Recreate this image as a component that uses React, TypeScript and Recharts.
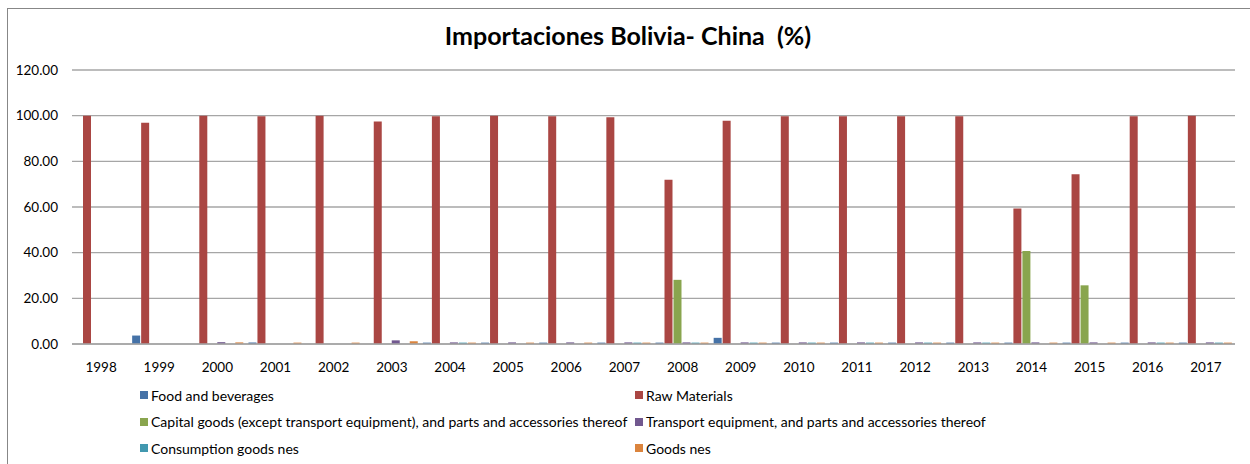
import React from "react";
import {
  BarChart,
  Bar,
  XAxis,
  YAxis,
  CartesianGrid,
} from "recharts";

// --- data ---
const YEARS = [
  "1998", "1999", "2000", "2001", "2002", "2003", "2004", "2005", "2006", "2007",
  "2008", "2009", "2010", "2011", "2012", "2013", "2014", "2015", "2016", "2017",
];

const FOOD = [0, 3.7, 0, 0.7, 0, 0, 0.6, 0.6, 0.6, 0.6, 0.6, 2.7, 0.6, 0.6, 0.6, 0.6, 0.6, 0.6, 0.6, 0.6];
const RAW = [100, 96.9, 100, 99.7, 100, 97.4, 99.7, 100, 99.7, 99.3, 71.9, 97.8, 99.7, 99.7, 99.7, 99.7, 59.3, 74.3, 99.7, 100];
const CAPITAL = [0, 0, 0, 0, 0, 0, 0, 0, 0, 0, 28.1, 0, 0, 0, 0, 0, 40.7, 25.7, 0, 0];
const TRANSPORT = [0, 0, 0.8, 0, 0, 1.6, 0.7, 0.7, 0.7, 0.7, 0.7, 0.7, 0.7, 0.7, 0.7, 0.7, 0.7, 0.7, 0.7, 0.7];
const CONSUMPTION = [0, 0, 0, 0, 0, 0, 0.6, 0, 0, 0.6, 0.6, 0.6, 0.6, 0.6, 0.6, 0.6, 0, 0, 0.6, 0.6];
const GOODS_NES = [0, 0, 0.7, 0.6, 0.6, 1.2, 0.6, 0.6, 0.6, 0.6, 0.6, 0.6, 0.6, 0.6, 0.6, 0.6, 0.6, 0.6, 0.6, 0.6];

const Y_TICKS = [0, 20, 40, 60, 80, 100, 120];

const SERIES = [
  { key: "food", name: "Food and beverages", color: "#4572A7", values: FOOD },
  { key: "raw", name: "Raw Materials", color: "#AA4643", values: RAW },
  {
    key: "capital",
    name: "Capital goods (except transport equipment), and parts and accessories thereof",
    color: "#89A54E",
    values: CAPITAL,
  },
  {
    key: "transport",
    name: "Transport equipment, and parts and accessories thereof",
    color: "#71588F",
    values: TRANSPORT,
  },
  { key: "consumption", name: "Consumption goods nes", color: "#4198AF", values: CONSUMPTION },
  { key: "goods", name: "Goods nes", color: "#DB843D", values: GOODS_NES },
];

const data = YEARS.map((year, i) => {
  const row: Record<string, any> = { year };
  SERIES.forEach((s) => (row[s.key] = s.values[i]));
  return row;
});

const FONT = "Lato, 'Open Sans', sans-serif";
const GRID = "#A6A6A6";

// legend laid out like Excel's: two columns, three rows
const LegendBlock = () => (
  <div style={{ position: "absolute", left: 0, top: 386, width: 1250, height: 80, fontFamily: FONT }}>
    {SERIES.map((s, i) => {
      const col = i % 2;
      const row = Math.floor(i / 2);
      return (
        <div
          key={s.key}
          style={{
            position: "absolute",
            left: col === 0 ? 140 : 635,
            top: row * 26.5,
            height: 18,
            display: "flex",
            alignItems: "center",
            fontSize: 14,
            color: "#000",
            whiteSpace: "nowrap",
          }}
        >
          <span style={{ width: 8, height: 8, background: s.color, marginRight: 3, display: "inline-block" }} />
          {s.name}
        </div>
      );
    })}
  </div>
);

export default function App() {
  return (
    <div style={{ position: "absolute", left: 0, top: 0, width: 1250, height: 464, overflow: "hidden", background: "#fff" }}>
      <div
        style={{
          position: "absolute",
          left: 7,
          top: 8,
          width: 1300,
          height: 500,
          border: "1px solid #878787",
        }}
      />
      <div
        style={{
          position: "absolute",
          left: 0,
          top: 20,
          width: 1256,
          textAlign: "center",
          fontFamily: FONT,
          fontWeight: 700,
          fontSize: 25,
          color: "#000",
        }}
      >
        Importaciones Bolivia- China&nbsp; (%)
      </div>
      <div style={{ position: "absolute", left: 0, top: 0 }}>
        <BarChart
          width={1250}
          height={464}
          data={data}
          margin={{ top: 70, right: 15, left: 0, bottom: 90 }}
          barCategoryGap={2}
          barGap={1}
        >
          <CartesianGrid vertical={false} stroke={GRID} strokeWidth={1.3} />
          <XAxis
            dataKey="year"
            height={30}
            axisLine={{ stroke: GRID, strokeWidth: 1.3 }}
            tickLine={false}
            tickMargin={12}
            tick={{ fill: "#000", fontSize: 13.5, fontFamily: FONT }}
            interval={0}
          />
          <YAxis
            width={72}
            domain={[0, 120]}
            ticks={Y_TICKS}
            axisLine={false}
            tickLine={false}
            tickSize={0}
            tickMargin={14}
            tickFormatter={(v: number) => v.toFixed(2)}
            tick={{ fill: "#000", fontSize: 13.5, fontFamily: FONT }}
          />
          {SERIES.map((s) => (
            <Bar key={s.key} dataKey={s.key} name={s.name} fill={s.color} isAnimationActive={false} />
          ))}
        </BarChart>
      </div>
      <LegendBlock />
    </div>
  );
}
